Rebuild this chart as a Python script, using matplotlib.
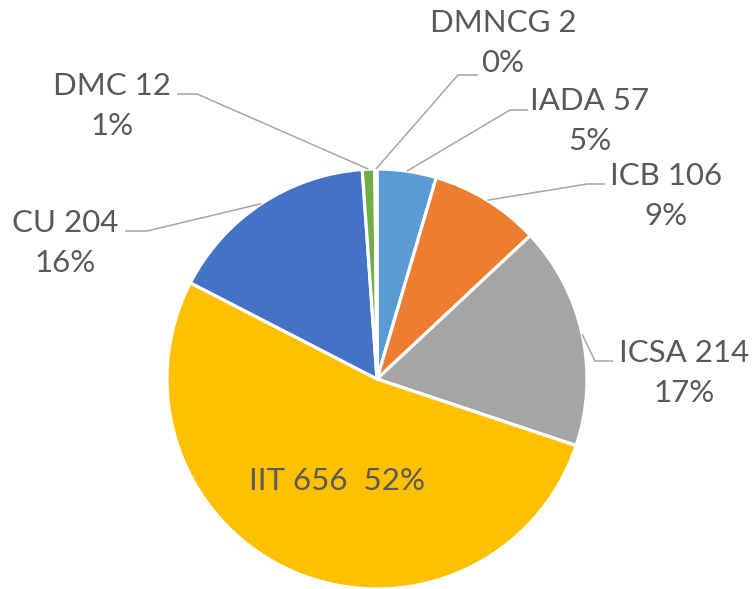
from matplotlib import pyplot as plt
import numpy as np

# data, clockwise from 12 o'clock
names = ['IADA', 'ICB', 'ICSA', 'IIT', 'CU', 'DMC', 'DMNCG']
counts = [57, 106, 214, 656, 204, 12, 2]
pcts = ['5%', '9%', '17%', '52%', '16%', '1%', '0%']
colors = ['#5B9BD5', '#ED7D31', '#A5A5A5', '#FFC000', '#4472C4', '#70AD47', '#264478']

W, H = 753, 589
cx, cy, R = 377, 379, 210
txt = '#595959'
line_c = '#A6A6A6'

# label layout in pixel coords: text centre, elbow start, elbow end
layout = {
    'IADA':  ((590, 121), (510, 110), (528, 110)),
    'ICB':   ((666, 196), (587, 184), (605, 184)),
    'ICSA':  ((684, 373), (595, 361), (613, 361)),
    'CU':    ((65, 243), (147, 231), (125, 231)),
    'DMC':   ((112, 106), (197, 94), (177, 94)),
    'DMNCG': ((503, 43), (458, 75), (478, 75)),
}

plt.rcParams['font.family'] = ['Lato', 'DejaVu Sans']
fig = plt.figure(figsize=(W / 100, H / 100), dpi=100)
ax = fig.add_axes([0, 0, 1, 1])

wedges, _ = ax.pie(counts, colors=colors, startangle=-90, counterclock=True,
                   center=(cx, cy), radius=R,
                   wedgeprops=dict(edgecolor='white', linewidth=2.3))

for w, n, c, p in zip(wedges, names, counts, pcts):
    if n == 'IIT':
        ax.text(337, 481, '%s %d  %s' % (n, c, p), ha='center', va='center',
                fontsize=22.5, color=txt)
        continue
    mid = np.deg2rad((w.theta1 + w.theta2) / 2)
    ex, ey = cx + R * np.cos(mid), cy + R * np.sin(mid)
    (tx, ty), (bx, by), (hx, hy) = layout[n]
    ax.plot([ex, bx, hx], [ey, by, hy], color=line_c, lw=1.1, solid_capstyle='butt')
    ax.text(tx, ty, '%s %d\n%s' % (n, c, p), ha='center', va='center',
            fontsize=22.5, color=txt, linespacing=1.55)

ax.set_xlim(0, W)
ax.set_ylim(H, 0)
ax.set_aspect('equal')
ax.axis('off')
fig.savefig('out.png', dpi=100)
